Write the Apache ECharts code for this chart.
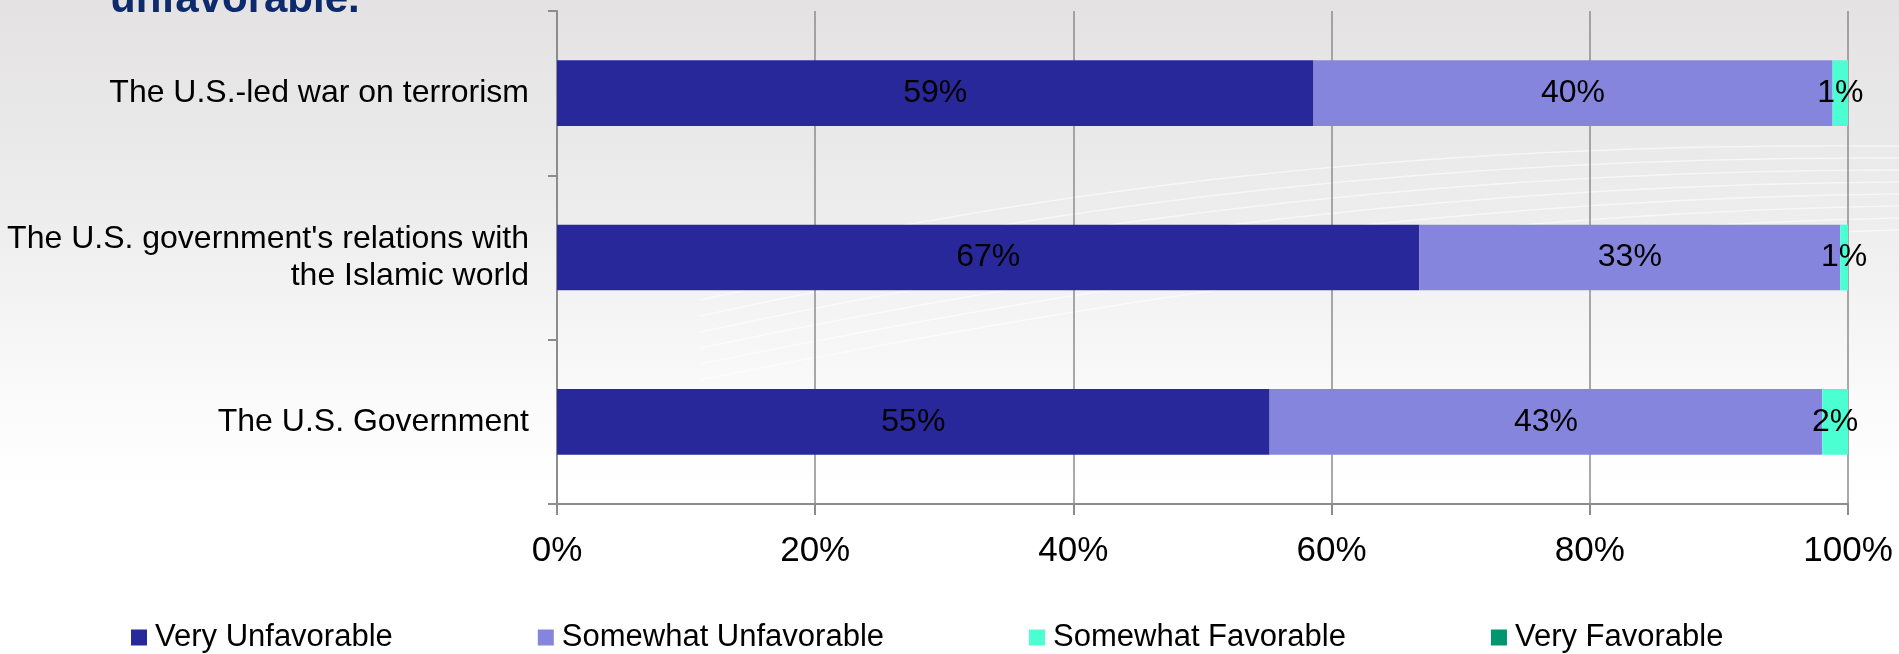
<!DOCTYPE html>
<html>
<head>
<meta charset="utf-8">
<script src="https://cdn.jsdelivr.net/npm/echarts@6/dist/echarts.min.js"></script>
<style>
html,body{margin:0;padding:0;}
#chart{width:1899px;height:654px;}
</style>
</head>
<body>
<div id="chart"></div>
<script>
const categories = [
  "The U.S.-led war on terrorism",
  "The U.S. government's relations with\nthe Islamic world",
  "The U.S. Government"
];
const seriesNames = ["Very Unfavorable", "Somewhat Unfavorable", "Somewhat Favorable", "Very Favorable"];
const veryUnfavorable = [58.6, 66.8, 55.2];
const somewhatUnfavorable = [40.2, 32.6, 42.8];
const somewhatFavorable = [1.2, 0.6, 2.0];
const veryFavorable = [0, 0, 0];
const xTicks = [0, 20, 40, 60, 80, 100];
const titleText = "unfavorable.";

const colors = ['#28289a', '#8585dd', '#4cffd3', '#009670'];
const FONT = "'Liberation Sans', Arial, sans-serif";
const values = [veryUnfavorable, somewhatUnfavorable, somewhatFavorable, veryFavorable];

// faint decorative swooshes of the slide background
const swooshes = [];
for (let k = 0; k < 8; k++) {
  swooshes.push({
    type: 'bezierCurve', silent: true, z: -1,
    shape: {x1: 700, y1: 380 - k * 16, cpx1: 1100, cpy1: 300 - k * 18, cpx2: 1500, cpy2: 240 - k * 14, x2: 1899, y2: 230 - k * 12},
    style: {stroke: 'rgba(255,255,255,0.55)', lineWidth: 1.5, fill: null}
  });
}

const chart = echarts.init(document.getElementById('chart'));
chart.setOption({
  backgroundColor: {
    type: 'linear', x: 0, y: 0, x2: 0, y2: 1,
    colorStops: [
      {offset: 0, color: '#e4e2e3'},
      {offset: 0.35, color: '#eeeeee'},
      {offset: 0.6, color: '#fafafa'},
      {offset: 0.75, color: '#ffffff'},
      {offset: 1, color: '#ffffff'}
    ]
  },
  animation: false,
  graphic: swooshes.concat([{
    type: 'text', left: 110, top: -21,
    style: {text: titleText, font: "bold 42px " + FONT, fill: '#0c2a6c'}
  }]),
  grid: {left: 557, right: 51, top: 11, bottom: 150, containLabel: false},
  legend: {
    data: seriesNames,
    left: 126, top: 617,
    itemGap: 145, itemWidth: 16, itemHeight: 16,
    icon: 'rect',
    textStyle: {fontFamily: FONT, fontSize: 31, color: '#000', padding: [0, 0, 0, 3]}
  },
  xAxis: {
    type: 'value', min: 0, max: 100, interval: 20,
    axisLine: {show: true, lineStyle: {color: '#8c8c8c', width: 2}},
    axisTick: {show: true, length: 11, lineStyle: {color: '#8c8c8c', width: 2}},
    splitLine: {show: true, lineStyle: {color: '#8c8c8c', width: 1.5}},
    axisLabel: {
      margin: 30, fontFamily: FONT, fontSize: 35, color: '#000',
      formatter: v => xTicks.includes(v) ? v + '%' : ''
    }
  },
  yAxis: {
    type: 'category', data: categories, inverse: true,
    axisLine: {show: true, lineStyle: {color: '#8c8c8c', width: 2}},
    axisTick: {show: true, length: 9, alignWithLabel: false, lineStyle: {color: '#8c8c8c', width: 2}},
    axisLabel: {margin: 28, fontFamily: FONT, fontSize: 32, color: '#000', lineHeight: 37, align: 'right'}
  },
  series: seriesNames.map((name, i) => ({
    name, type: 'bar', stack: 'total',
    data: values[i],
    barWidth: '40%',
    itemStyle: {color: colors[i]},
    label: {
      show: true, position: 'inside', color: '#000',
      fontFamily: FONT, fontSize: 32,
      formatter: p => p.value > 0 ? Math.round(p.value) + '%' : ''
    }
  }))
});
</script>
</body>
</html>
